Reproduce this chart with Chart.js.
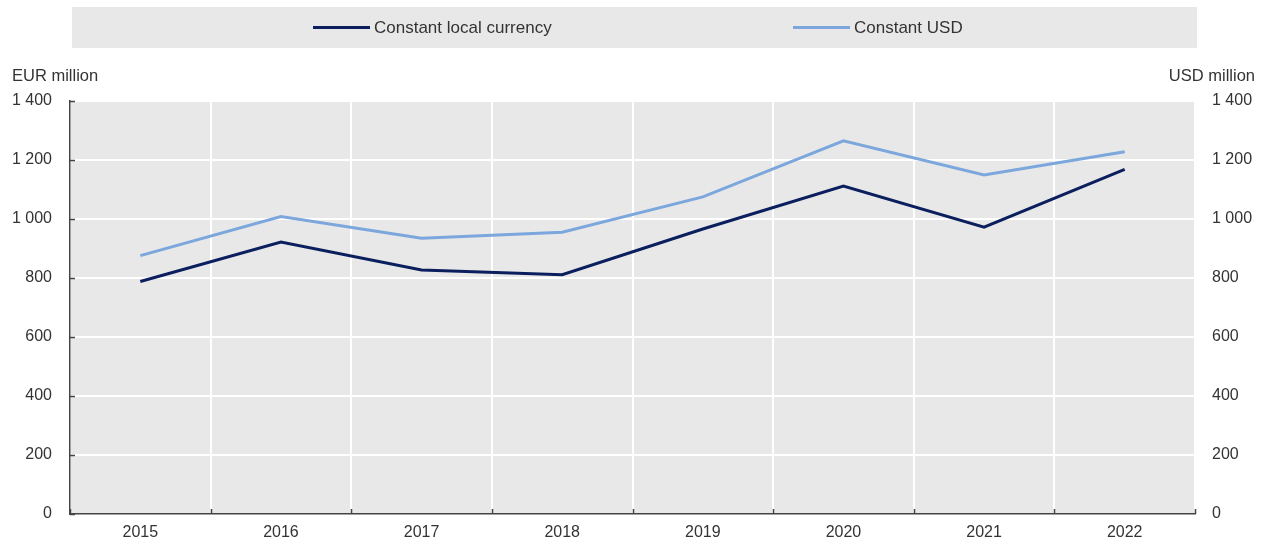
<!DOCTYPE html>
<html>
<head>
<meta charset="utf-8">
<script src="https://cdn.jsdelivr.net/npm/chart.js@4.4.1/dist/chart.umd.min.js"></script>
<style>
  html, body { margin: 0; padding: 0; background: #ffffff; }
  #wrap { position: relative; width: 1271px; height: 549px; overflow: hidden; }
  canvas { position: absolute; left: 0; top: 0; }
  .txt { position: absolute; font-family: 'Liberation Sans', Arial, sans-serif; color: #333333; white-space: nowrap; line-height: 1; }
  #legendBox { position: absolute; left: 72px; top: 7px; width: 1125px; height: 41px; background: #e8e8e8; }
  .swatch { position: absolute; height: 3px; width: 57px; }
</style>
</head>
<body>
<div id="wrap">
  <div id="legendBox"></div>
  <canvas id="c" width="1271" height="549"></canvas>
  <div class="swatch" style="left:313px; top:26px; background:#0b1f5e;"></div>
  <div class="txt" style="left:374px; top:19px; font-size:17px;">Constant local currency</div>
  <div class="swatch" style="left:793px; top:26px; background:#7ba7dc;"></div>
  <div class="txt" style="left:854px; top:19px; font-size:17px;">Constant USD</div>
  <div class="txt" style="left:12px; top:67px; font-size:16.5px;">EUR million</div>
  <div class="txt" style="right:16px; top:67px; font-size:16.5px;">USD million</div>
</div>
<script>
const categories = ['2015', '2016', '2017', '2018', '2019', '2020', '2021', '2022'];
const localCurrency = [788, 922, 827, 811, 966, 1112, 972, 1168];
const constantUSD = [876, 1008, 935, 955, 1075, 1265, 1149, 1228];
const yTicks = [0, 200, 400, 600, 800, 1000, 1200, 1400];

const FONT = "'Liberation Sans', Arial, sans-serif";
const fmt = v => String(v).replace(/\B(?=(\d{3})+(?!\d))/g, ' ');

const bgPlugin = {
  id: 'bg',
  beforeDraw(chart) {
    const a = chart.chartArea, ctx = chart.ctx;
    ctx.save();
    ctx.fillStyle = '#e8e8e8';
    ctx.fillRect(a.left, a.top, a.right - a.left, a.bottom - a.top);
    ctx.restore();
  }
};

const tickPlugin = {
  id: 'innerTicks',
  afterDatasetsDraw(chart) {
    const ctx = chart.ctx, a = chart.chartArea;
    const y = chart.scales.y, x = chart.scales.x;
    ctx.save();
    ctx.strokeStyle = '#444444';
    ctx.lineWidth = 1.5;
    ctx.beginPath();
    yTicks.forEach(v => {
      const py = Math.round(y.getPixelForValue(v)) + 0.5;
      ctx.moveTo(a.left, py);
      ctx.lineTo(a.left + 5, py);
    });
    for (let i = 0; i <= categories.length; i++) {
      const px = Math.round(x.getPixelForValue(i - 0.5)) + 0.5;
      ctx.moveTo(px, a.bottom);
      ctx.lineTo(px, a.bottom - 5);
    }
    ctx.stroke();
    ctx.restore();
  }
};

new Chart(document.getElementById('c'), {
  type: 'line',
  data: {
    labels: categories,
    datasets: [
      { label: 'Constant local currency', data: localCurrency, yAxisID: 'y',
        borderColor: '#0b1f5e', borderWidth: 3, pointRadius: 0, tension: 0, fill: false },
      { label: 'Constant USD', data: constantUSD, yAxisID: 'y2',
        borderColor: '#7ba7dc', borderWidth: 3, pointRadius: 0, tension: 0, fill: false }
    ]
  },
  options: {
    responsive: false,
    animation: false,
    devicePixelRatio: 1,
    layout: { padding: { top: 101, left: 0, right: 0, bottom: 0 } },
    plugins: { legend: { display: false }, tooltip: { enabled: false }, title: { display: false } },
    scales: {
      x: {
        offset: true,
        grid: { offset: true, color: '#ffffff', lineWidth: 2, drawTicks: false },
        border: { display: true, color: '#444444', width: 1.5 },
        ticks: { color: '#333333', font: { family: FONT, size: 16 }, padding: 9, maxRotation: 0 },
        afterFit(s) { s.height = 35; }
      },
      y: {
        position: 'left', min: 0, max: 1400,
        afterBuildTicks(s) { s.ticks = yTicks.map(v => ({ value: v })); },
        grid: { color: '#ffffff', lineWidth: 2, drawTicks: false },
        border: { display: true, color: '#444444', width: 1.5 },
        ticks: { color: '#333333', font: { family: FONT, size: 16 }, padding: 18, callback: v => fmt(v) },
        afterFit(s) { s.width = 70; }
      },
      y2: {
        position: 'right', min: 0, max: 1400,
        afterBuildTicks(s) { s.ticks = yTicks.map(v => ({ value: v })); },
        grid: { display: false, drawTicks: false },
        border: { display: false },
        ticks: { color: '#333333', font: { family: FONT, size: 16 }, padding: 17, callback: v => fmt(v) },
        afterFit(s) { s.width = 76; }
      }
    }
  },
  plugins: [bgPlugin, tickPlugin]
});
</script>
</body>
</html>
